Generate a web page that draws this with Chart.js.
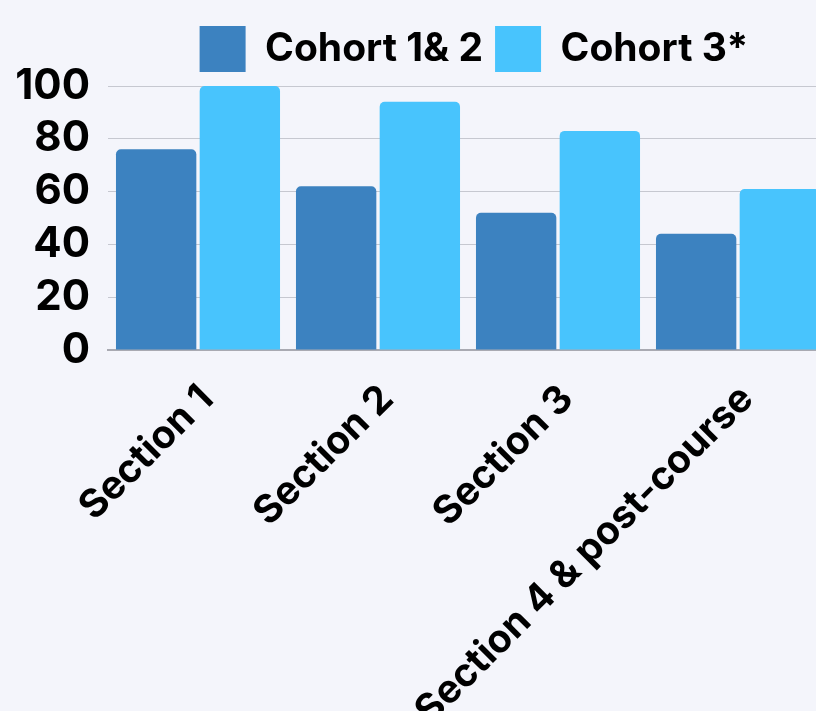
<!DOCTYPE html>
<html>
<head>
<meta charset="utf-8">
<script src="https://cdn.jsdelivr.net/npm/chart.js@4"></script>
<style>
  html, body { margin: 0; padding: 0; background: #f4f5fb; overflow: hidden; }
  #wrap { width: 816px; height: 711px; overflow: hidden; }
</style>
</head>
<body>
<div id="wrap"><canvas id="myChart" width="830" height="711"></canvas></div>
<script>
// données
const sections = ["Section 1", "Section 2", "Section 3", "Section 4 & post-course"];
const cohort12 = [76, 62, 52, 44];
const cohort3 = [100, 94, 83, 61];
const yTicks = [0, 20, 40, 60, 80, 100];

Chart.defaults.font.family = "Inter, 'Noto Sans', sans-serif";
Chart.defaults.font.weight = "bold";
Chart.defaults.color = "#000";

const data = {
  labels: sections,
  datasets: [
    {
      label: "Cohort 1& 2",
      data: cohort12,
      backgroundColor: "#3c82c0",
      borderRadius: 5,
      borderSkipped: "start",
    },
    {
      label: "Cohort 3*",
      data: cohort3,
      backgroundColor: "#48c4fd",
      borderRadius: 5,
      borderSkipped: "start",
    }
  ],
};

/* décale la légende (droite / haut) */
const moveLegend = {
  id: "moveLegend",
  afterLayout(chart) {
    const lg = chart.legend;
    lg.left += 60;
    lg.right += 60;
    lg.top -= 4;
    lg.bottom -= 4;
  }
};

const config = {
  type: "bar",
  data: data,
  plugins: [moveLegend],
  options: {
    responsive: false,
    animation: false,
    categoryPercentage: 0.93,
    barPercentage: 0.96,
    layout: {
      padding: { top: 18, right: 2, left: 0, bottom: 0 },
    },
    plugins: {
      legend: {
        position: "top",
        labels: {
          boxWidth: 46,
          boxHeight: 46,
          padding: 12,
          font: { size: 39, weight: "bold" },
        },
      },
      tooltip: { enabled: false },
    },
    scales: {
      x: {
        grid: { display: false },
        border: { color: "#a9aab2", width: 2 },
        ticks: {
          autoSkip: false,
          maxRotation: 45,
          minRotation: 45,
          padding: 18,
          labelOffset: 9,
          font: { size: 39, weight: "bold" },
        },
        afterFit(scale) { scale.height = 361; },
      },
      y: {
        min: 0,
        max: 100,
        afterBuildTicks(scale) { scale.ticks = yTicks.map(v => ({ value: v })); },
        grid: { color: "#c6c8d0", lineWidth: 1, drawTicks: false },
        border: { display: false },
        ticks: {
          autoSkip: false,
          padding: 18,
          font: { size: 42, weight: "bold" },
        },
        afterFit(scale) { scale.width = 108; },
      },
    },
  },
};

const context = document.getElementById("myChart").getContext("2d");
const chart = new Chart(context, config);
</script>
</body>
</html>
